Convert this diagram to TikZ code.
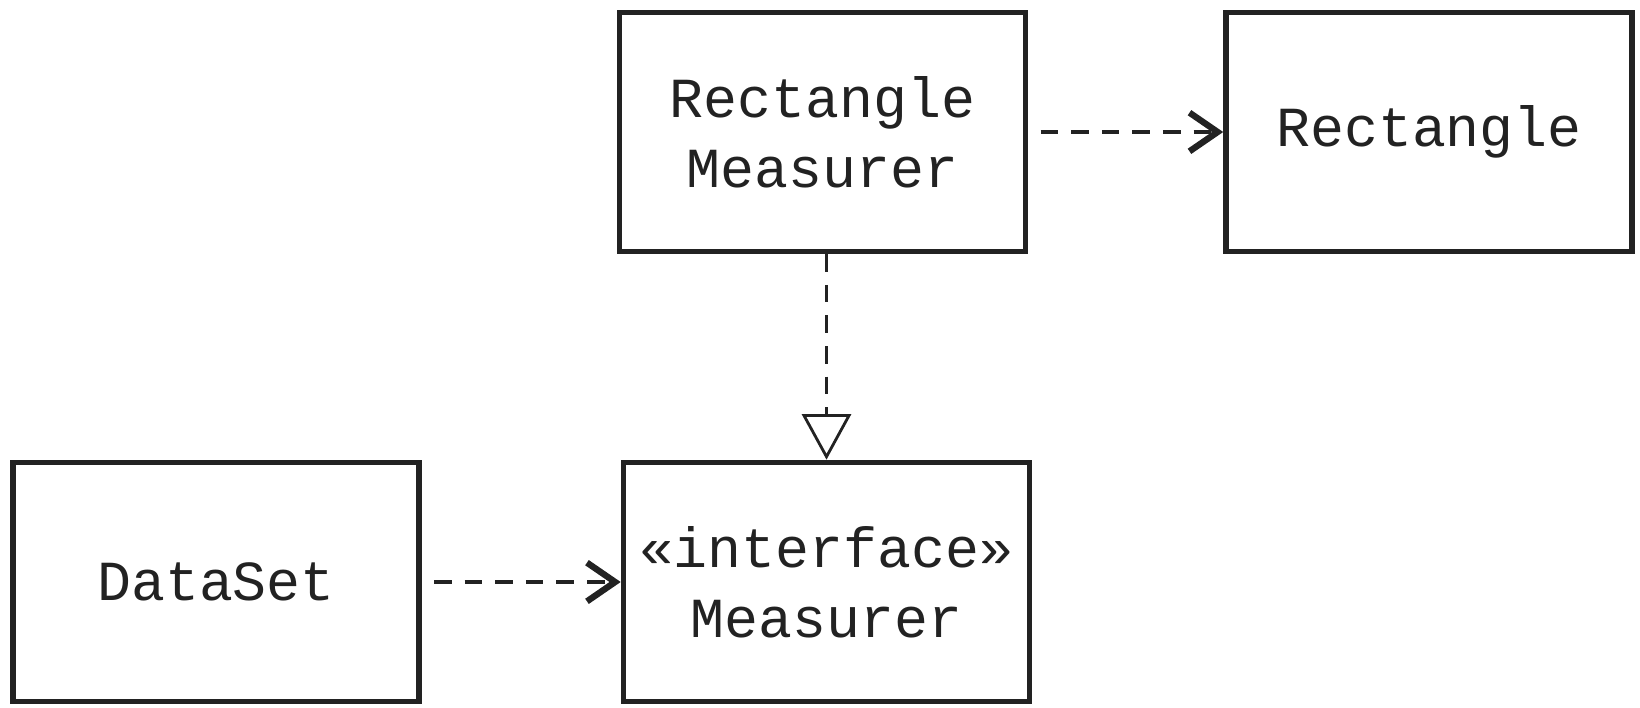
\documentclass[tikz,border=0pt]{standalone}
\usepackage{fontspec}
\setmonofont{Liberation Mono}
\usetikzlibrary{arrows.meta,positioning}
\definecolor{UmlInk}{RGB}{34,34,34}

\begin{document}
\begin{tikzpicture}[
        cls/.style={draw=UmlInk, line width=1.6pt, minimum width=4.06cm, minimum height=2.39cm,
                    align=center, text=UmlInk, font=\ttfamily\fontsize{16.1}{19.9}\selectfont},
        dep/.style={draw=UmlInk, line width=1.15pt, dash pattern=on 5pt off 3.7pt, shorten <=3.5pt,
                    -{Straight Barb[length=8pt, width=11pt, line width=1.8pt]}},
        real/.style={draw=UmlInk, line width=1.1pt, dash pattern=on 5pt off 3.7pt,
                    -{Triangle[open, length=13pt, width=14pt, line width=0.8pt]}}
]
    \useasboundingbox (0,0) rectangle (16.4,-7.07);
    \node[cls] (rm) at (8.225,-1.32) {Rectangle\\Measurer};
    \node[cls] (rect) at (14.29,-1.32) {Rectangle};
    \node[cls] (ds) at (2.16,-5.82) {DataSet};
    \node[cls] (ms) at (8.265,-5.82) {«interface»\\Measurer};
    \draw[dep] (rm) -- (rect);
    \draw[dep] (ds) -- (ms);
    \draw[real] (rm.south -| ms.north) -- (ms.north);
\end{tikzpicture}
\end{document}
